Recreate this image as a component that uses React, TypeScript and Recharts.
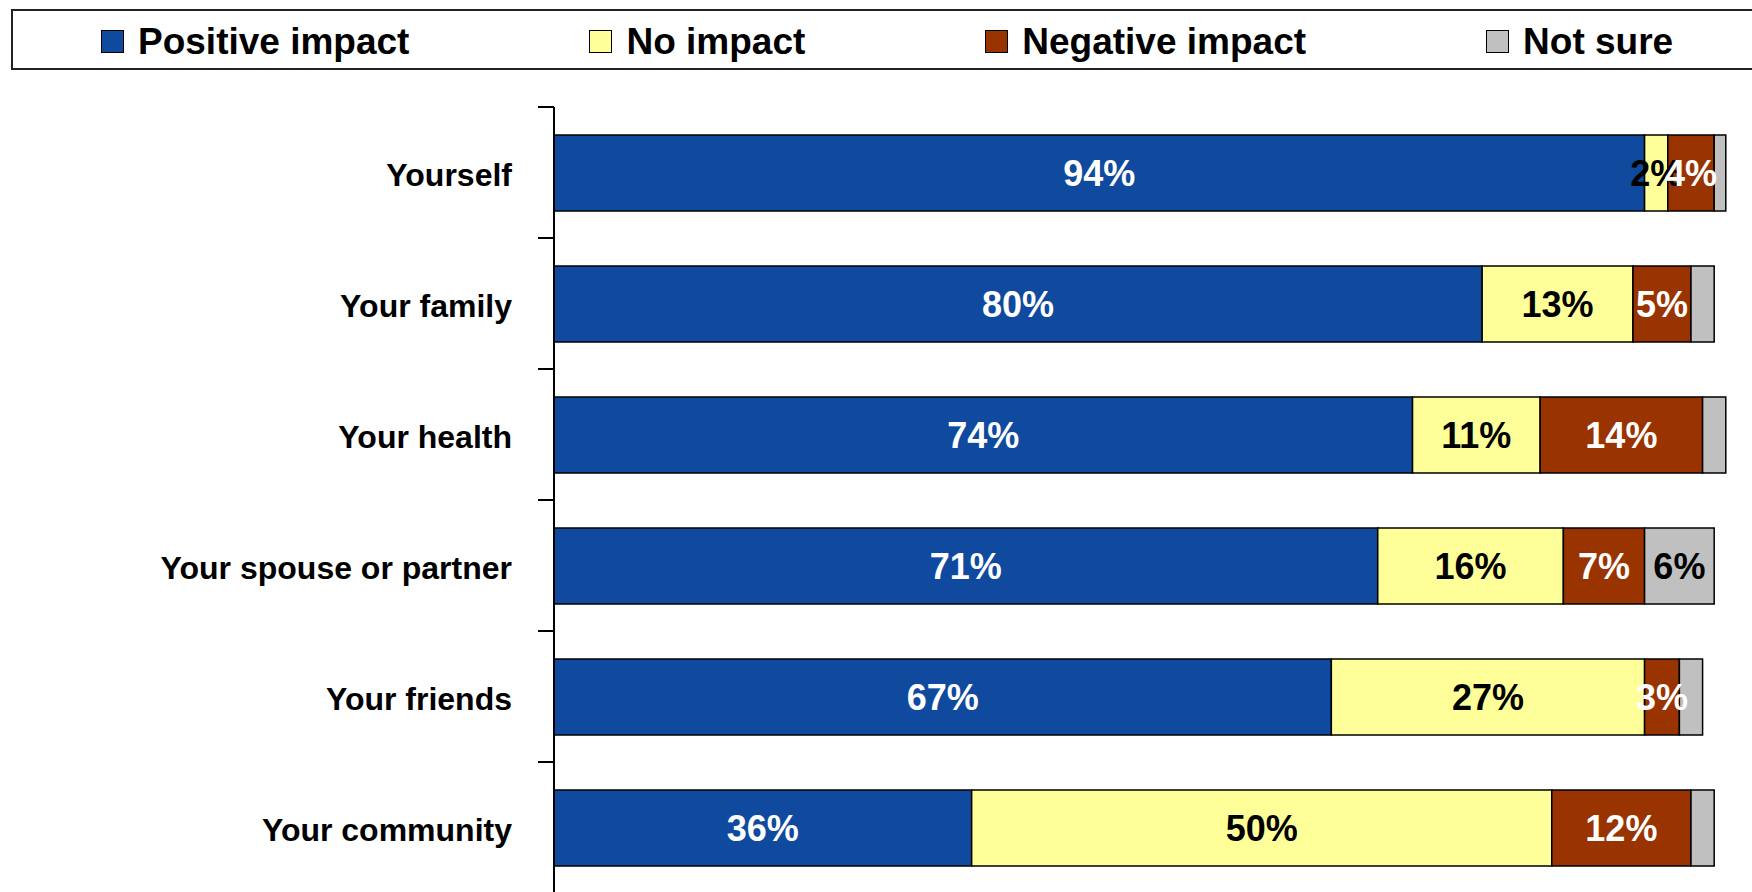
import React from "react";
import { BarChart, Bar, XAxis, YAxis, Legend, LabelList } from "recharts";

const categories = [
  "Yourself",
  "Your family",
  "Your health",
  "Your spouse or partner",
  "Your friends",
  "Your community",
];
const positive = [94, 80, 74, 71, 67, 36];
const noImpact = [2, 13, 11, 16, 27, 50];
const negative = [4, 5, 14, 7, 3, 12];
const notSure = [1, 2, 2, 6, 2, 2];

const series = [
  { key: "positive", name: "Positive impact", color: "#0f4a9e", text: "#fff" },
  { key: "noImpact", name: "No impact", color: "#ffff99", text: "#000" },
  { key: "negative", name: "Negative impact", color: "#993300", text: "#fff" },
  { key: "notSure", name: "Not sure", color: "#c0c0c0", text: "#000" },
];

const data = categories.map((name, i) => ({
  name,
  positive: positive[i],
  noImpact: noImpact[i],
  negative: negative[i],
  notSure: notSure[i],
}));

const FONT = '"Liberation Sans", Arial, sans-serif';
const W = 1752;
const H = 900;
const MARGIN = { top: 107, right: 3, bottom: 7, left: 0 };
const BAND = (H - MARGIN.top - MARGIN.bottom) / categories.length;

const CategoryTick = (props: any) => {
  const { x, y, payload } = props;
  const ly = y - BAND / 2;
  return (
    <g>
      <line x1={x + 26} x2={x + 42} y1={ly} y2={ly} stroke="#000" strokeWidth={2} />
      <text
        x={x}
        y={y + 2}
        textAnchor="end"
        dominantBaseline="central"
        fontSize={32}
        fontWeight="bold"
        fontFamily={FONT}
        fill="#000"
      >
        {payload.value}
      </text>
    </g>
  );
};

// legend drawn from the series list so the order stays as in the chart
const LegendBox = () => (
  <div
    style={{
      boxSizing: "border-box",
      height: 61,
      width: 1760,
      borderTop: "2px solid #222",
      borderBottom: "2px solid #222",
      borderLeft: "2px solid #222",
      display: "flex",
      alignItems: "center",
      paddingLeft: 88,
      paddingTop: 3,
      fontFamily: FONT,
      fontWeight: "bold",
      fontSize: 37,
      background: "#fff",
    }}
  >
    {series.map((s) => (
      <div key={s.key} style={{ display: "flex", alignItems: "center", marginRight: 180 }}>
        <span
          style={{
            display: "inline-block",
            boxSizing: "border-box",
            width: 23,
            height: 23,
            background: s.color,
            border: "1.5px solid #000",
            marginRight: 14,
          }}
        />
        <span style={{ whiteSpace: "nowrap", lineHeight: 1 }}>{s.name}</span>
      </div>
    ))}
  </div>
);

const pct = (v: any) => `${v}%`;
const pctBig = (v: any) => (Number(v) >= 3 ? `${v}%` : "");

const labelStyle = { fontSize: 36, fontWeight: "bold", fontFamily: FONT };

export default function App() {
  return (
    <div
      style={{
        position: "absolute",
        left: 0,
        top: 0,
        width: W,
        height: 892,
        overflow: "hidden",
        background: "#fff",
      }}
    >
      <BarChart width={W} height={H} data={data} layout="vertical" margin={MARGIN}>
        <XAxis type="number" domain={[0, 103]} hide />
        <YAxis
          type="category"
          dataKey="name"
          width={554}
          axisLine={{ stroke: "#000", strokeWidth: 2 }}
          tickLine={false}
          tickSize={16}
          tickMargin={26}
          tick={<CategoryTick />}
          interval={0}
        />
        <Legend
          verticalAlign="middle"
          align="center"
          wrapperStyle={{ top: 9, left: 11, width: 1760 }}
          content={<LegendBox />}
        />
        {series.map((s) => (
          <Bar
            key={s.key}
            dataKey={s.key}
            name={s.name}
            stackId="a"
            fill={s.color}
            stroke="#000"
            strokeWidth={1.5}
            barSize={76}
            isAnimationActive={false}
          >
            <LabelList
              dataKey={s.key}
              position="center"
              fill={s.text}
              stroke="none"
              formatter={s.key === "notSure" ? pctBig : pct}
              style={labelStyle}
            />
          </Bar>
        ))}
      </BarChart>
    </div>
  );
}
